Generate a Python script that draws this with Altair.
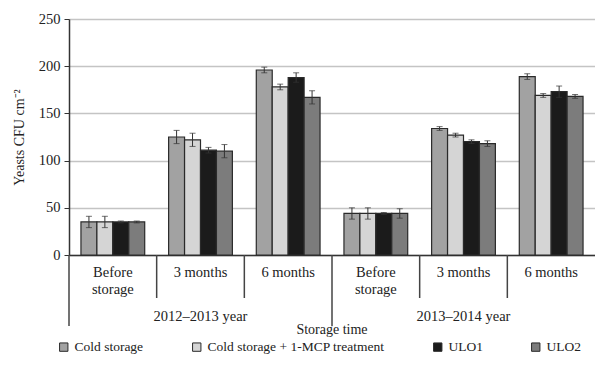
import altair as alt
import pandas as pd

# ---- data ----
groups = ["b1", "m31", "m61", "b2", "m32", "m62"]
group_labels = ["Before\nstorage", "3  months", "6 months", "Before\nstorage", "3 months", "6 months"]
series = ["Cold storage", "Cold storage + 1-MCP treatment", "ULO1", "ULO2"]
colors = ["#a2a2a2", "#d5d5d5", "#1b1b1b", "#7c7c7c"]

cold = [35, 125, 196, 44, 134, 189]
cold_err = [6, 7, 3, 6, 2, 3]
mcp = [35, 122, 178, 44, 127, 169]
mcp_err = [6, 7, 3, 6, 2, 2]
ulo1 = [35, 111, 188, 44, 120, 173]
ulo1_err = [1, 3, 5, 1, 2, 6]
ulo2 = [35, 110, 167, 44, 118, 168]
ulo2_err = [1, 7, 7, 5, 3, 2]

years = ["2012–2013 year", "2013–2014 year"]
year_center_groups = ["m31", "m32"]
long_sep_groups = ["b1", "b2"]
short_sep_groups = ["m31", "m61", "m32", "m62"]

FONT = "Liberation Serif"
W, H = 526, 236

rows = []
for s, vals, errs in zip(series, [cold, mcp, ulo1, ulo2], [cold_err, mcp_err, ulo1_err, ulo2_err]):
    for g, v, e in zip(groups, vals, errs):
        rows.append({"group": g, "series": s, "value": v, "lo": v - e, "hi": v + e})
df = pd.DataFrame(rows)

xscale = alt.Scale(domain=groups, paddingInner=0, paddingOuter=0)
yscale = alt.Scale(domain=[0, 250], nice=False, zero=True)
x_enc = alt.X("group:N", scale=xscale, sort=groups,
              axis=alt.Axis(labels=False, ticks=False, title=None, grid=False,
                            domainColor="#333333", domainWidth=1.5))
xoff = alt.XOffset("series:N", sort=series,
                   scale=alt.Scale(domain=series, paddingInner=0, paddingOuter=0.75))
y_enc = alt.Y("value:Q", scale=yscale,
              axis=alt.Axis(values=[0, 50, 100, 150, 200, 250], title="Yeasts CFU cm⁻²",
                            titleFont=FONT, titleFontSize=14, titleFontWeight="normal",
                            titleColor="#222222", titlePadding=12,
                            labelFont=FONT, labelFontSize=14.5, labelColor="#222222",
                            labelPadding=4, tickSize=5, tickColor="#333333",
                            domainColor="#333333", domainWidth=1.5,
                            gridColor="#c4c4c4", gridWidth=1.5))

bars = alt.Chart(df).mark_bar(stroke="#2a2a2a", strokeWidth=1.2).encode(
    x=x_enc, xOffset=xoff, y=y_enc,
    color=alt.Color("series:N", sort=series,
                    scale=alt.Scale(domain=series, range=colors),
                    legend=alt.Legend(title=None, orient="none", direction="horizontal",
                                      columns=4, legendX=-12, legendY=321, padding=0,
                                      columnPadding=46, labelFont=FONT, labelFontSize=13.5,
                                      labelColor="#222222", labelOffset=4,
                                      symbolType="square", symbolSize=70,
                                      symbolStrokeColor="#2a2a2a", symbolStrokeWidth=1,
                                      labelLimit=400)),
)

xg = alt.X("group:N", scale=xscale, sort=groups)
err = alt.Chart(df).mark_rule(color="#333333", strokeWidth=1).encode(
    x=xg, xOffset=xoff, y=alt.Y("lo:Q", scale=yscale), y2="hi:Q")
cap_lo = alt.Chart(df).mark_tick(color="#333333", thickness=1, size=6, orient="horizontal").encode(
    x=xg, xOffset=xoff, y=alt.Y("lo:Q", scale=yscale))
cap_hi = alt.Chart(df).mark_tick(color="#333333", thickness=1, size=6, orient="horizontal").encode(
    x=xg, xOffset=xoff, y=alt.Y("hi:Q", scale=yscale))

lab_df = pd.DataFrame({"group": groups, "label": group_labels})
labels = alt.Chart(lab_df).mark_text(font=FONT, fontSize=14.5, color="#222222",
                                     baseline="top", lineBreak="\n", lineHeight=17).encode(
    x=xg, y=alt.value(H + 11), text="label:N")

sep_df = pd.DataFrame({"group": long_sep_groups + short_sep_groups,
                       "len": [71] * len(long_sep_groups) + [43] * len(short_sep_groups)})
seps = alt.layer(*[
    alt.Chart(sep_df[sep_df["len"] == L]).mark_rule(color="#444444", strokeWidth=1.5).encode(
        x=alt.X("group:N", scale=xscale, sort=groups, bandPosition=0),
        y=alt.value(H), y2=alt.value(H + L))
    for L in [71, 43]
])

yr_df = pd.DataFrame({"group": year_center_groups, "label": years})
yr_text = alt.Chart(yr_df).mark_text(font=FONT, fontSize=14.5, color="#222222",
                                     baseline="middle").encode(
    x=xg, y=alt.value(H + 62), text="label:N")

st_df = pd.DataFrame({"group": ["b2"], "label": ["Storage time"]})
st_text = alt.Chart(st_df).mark_text(font=FONT, fontSize=14, color="#222222",
                                     baseline="middle").encode(
    x=alt.X("group:N", scale=xscale, sort=groups, bandPosition=0),
    y=alt.value(H + 75), text="label:N")

chart = alt.layer(bars, err, cap_lo, cap_hi, labels, seps, yr_text, st_text).properties(
    width=W, height=H,
    autosize=alt.AutoSizeParams(type="none"),
    padding={"left": 61, "top": 11, "right": 0, "bottom": 102},
).configure_view(stroke=None).configure(
    background="white", font=FONT
).configure_legend(labelFont=FONT).configure_axis(labelFont=FONT, titleFont=FONT)

chart.save("out.html", embed_options={"renderer": "svg", "actions": False})
